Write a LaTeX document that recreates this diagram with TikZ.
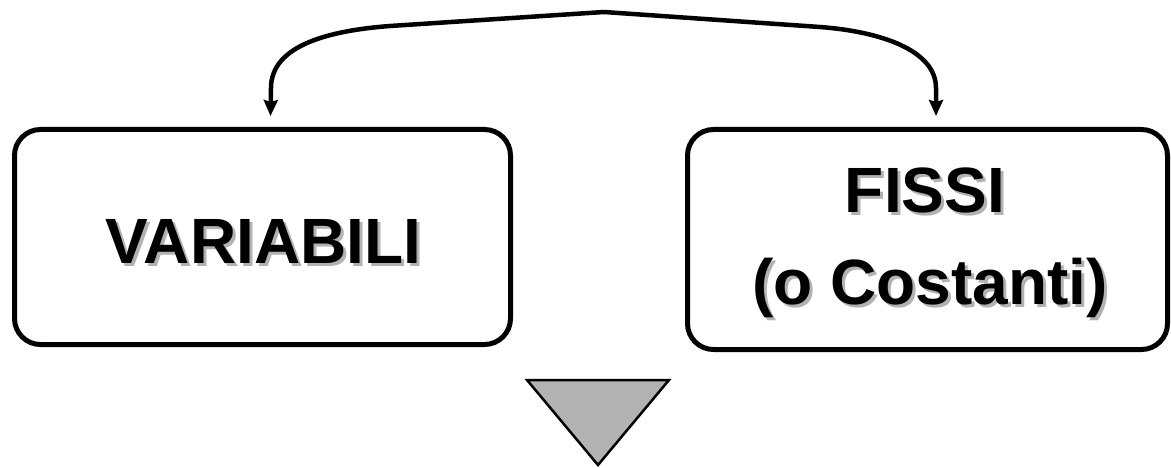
\documentclass[tikz,border=0pt]{standalone}
\usepackage{fontspec}
\setmainfont{Liberation Sans}
\usetikzlibrary{arrows.meta}
\newcommand{\shadowed}[1]{\makebox[0pt][l]{\hspace{3pt}\raisebox{-3pt}{\textcolor{black!30}{#1}}}#1}
\begin{document}
\begin{tikzpicture}[x=1pt,y=-1pt,
  box/.style={draw=black, line width=5pt, rounded corners=26pt, fill=white, inner sep=0pt},
  lbl/.style={font=\fontsize{64}{76}\selectfont\bfseries, inner sep=0pt, anchor=base, text=black},
  conn/.style={line width=4.5pt, -{Stealth[length=16pt,width=14pt,inset=2pt]}},
  tri/.style={draw=black, line width=2.5pt, fill=black!30, line join=miter}]
\useasboundingbox (0,0) rectangle (1171,468);
% boxes
\node[box, minimum width=496pt, minimum height=215pt] (var) at (262.5,237) {};
\node[box, minimum width=480pt, minimum height=220pt] (fix) at (927.5,239.5) {};
% labels with shadow
\node[lbl] (varT) at (263.5,263) {\shadowed{VARIABILI}};
\node[lbl] (fixT1) at (925,212) {\shadowed{FISSI}};
\node[lbl] (fixT2) at (930,304) {\shadowed{(o Costanti)}};
% connector
\coordinate (top) at (604,12);
\coordinate (la) at (270.5,116);
\coordinate (ra) at (936,116);
\draw[conn] (top) -- (390,26) .. controls (330,30.5) and (271,45) .. (271,88) -- (la);
\draw[conn] (top) -- (820,27) .. controls (880,31.5) and (936,50) .. (936,88) -- (ra);
% triangle
\draw[tri] (527,380) -- (669,380) -- (598,465) -- cycle;
\end{tikzpicture}
\end{document}
